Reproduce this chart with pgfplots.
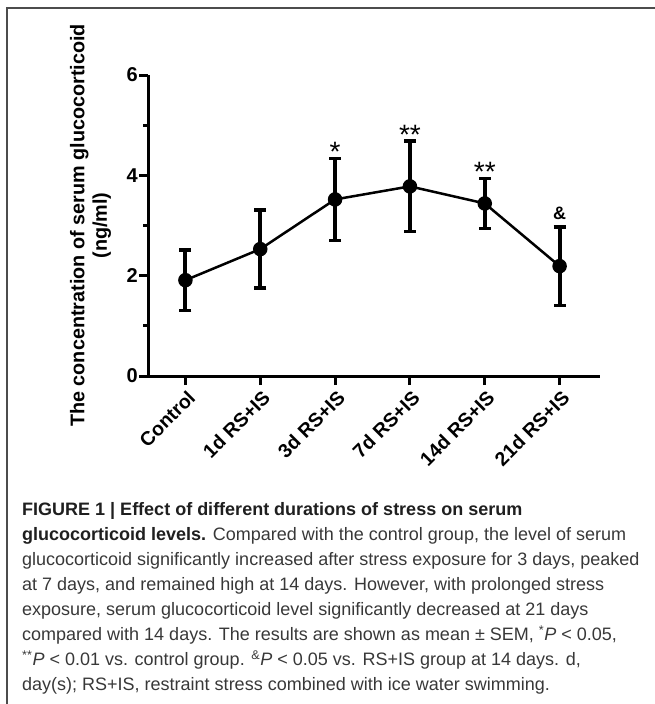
\documentclass[border=0pt]{standalone}
\usepackage{fontspec}
\setmainfont{Liberation Sans}
\newfontfamily\capfont{Liberation Sans}
\usepackage{pgfplots}
\usepackage{pgfplotstable}
\pgfplotsset{compat=1.18}

\pgfplotstableread{
x y e
0 1.91 0.60
1 2.53 0.78
2 3.52 0.82
3 3.78 0.90
4 3.44 0.50
5 2.19 0.78
}\glucodata

\begin{document}
\begin{tikzpicture}
\useasboundingbox (0pt,0pt) rectangle (654pt,-704pt);
\draw[black!70, line width=1.6pt] (7pt,-720pt) -- (7pt,-8pt) -- (700pt,-8pt);
\begin{axis}[
  at={(148pt,-376pt)}, anchor=south west,
  scale only axis, width=452pt, height=301pt,
  xmin=-0.5, xmax=5.54, ymin=0, ymax=6,
  axis x line*=bottom, axis y line*=left,
  axis line style={line width=3pt, black},
  tick style={line width=3pt, black},
  tick align=outside,
  major tick length=9pt, minor tick length=5pt,
  xtick={0,1,2,3,4,5},
  xticklabels={Control,1d RS+IS,3d RS+IS,7d RS+IS,14d RS+IS,21d RS+IS},
  ytick={0,2,4,6}, minor ytick={1,3,5},
  /pgf/number format/assume math mode=true,
  yticklabel style={font=\bfseries\fontsize{20}{20}\selectfont, inner sep=1pt},
  xticklabel style={font=\bfseries\fontsize{19.5}{19.5}\selectfont, rotate=45, anchor=east, inner sep=1pt, xshift=-1pt, yshift=-11pt},
  ylabel={The concentration of serum glucocorticoid\\(ng/ml)},
  ylabel style={align=center, font=\bfseries\fontsize{19.8}{22.5}\selectfont,
    at={(axis description cs:-0.074,0.5)}, anchor=south},
  clip=false,
]
\addplot[black, line width=2.5pt, mark=*, mark size=6pt,
  error bars/.cd, y dir=both, y explicit,
  error bar style={line width=4pt, black},
  error mark=-,
  error mark options={rotate=90, line width=3.5pt, mark size=6pt, black}]
  table[x=x, y=y, y error=e]{\glucodata};
\addplot[draw=none, mark=none, nodes near coords, point meta=explicit symbolic,
  nodes near coords style={anchor=south, inner sep=0pt, yshift=-3pt, font=\fontsize{28}{28}\selectfont}]
  coordinates {(2,4.34) [*] (3,4.68) [**] (4,3.94) [**]};
\addplot[draw=none, mark=none, nodes near coords, point meta=explicit symbolic,
  nodes near coords style={anchor=base, inner sep=0pt, yshift=8pt, font=\bfseries\fontsize{18}{18}\selectfont}]
  coordinates {(5,2.97) [\&]};
\end{axis}
\node[anchor=north west, align=left, inner sep=0pt, text=black!78,
  font=\capfont\fontsize{18}{25.1}\selectfont] at (22pt,-502pt) {%
\textbf{\color{black!88}FIGURE 1 | Effect of different durations of stress on serum}\\
\textbf{\color{black!88}glucocorticoid levels.} Compared with the control group, the level of serum\\
glucocorticoid significantly increased after stress exposure for 3 days, peaked\\
at 7 days, and remained high at 14 days. However, with prolonged stress\\
exposure, serum glucocorticoid level significantly decreased at 21 days\\
compared with 14 days. The results are shown as mean ± SEM, \textsuperscript{*}\textit{P} < 0.05,\\
\textsuperscript{**}\textit{P} < 0.01 vs. control group. \textsuperscript{\&}\textit{P} < 0.05 vs. RS+IS group at 14 days. d,\\
day(s); RS+IS, restraint stress combined with ice water swimming.};
\end{tikzpicture}
\end{document}
